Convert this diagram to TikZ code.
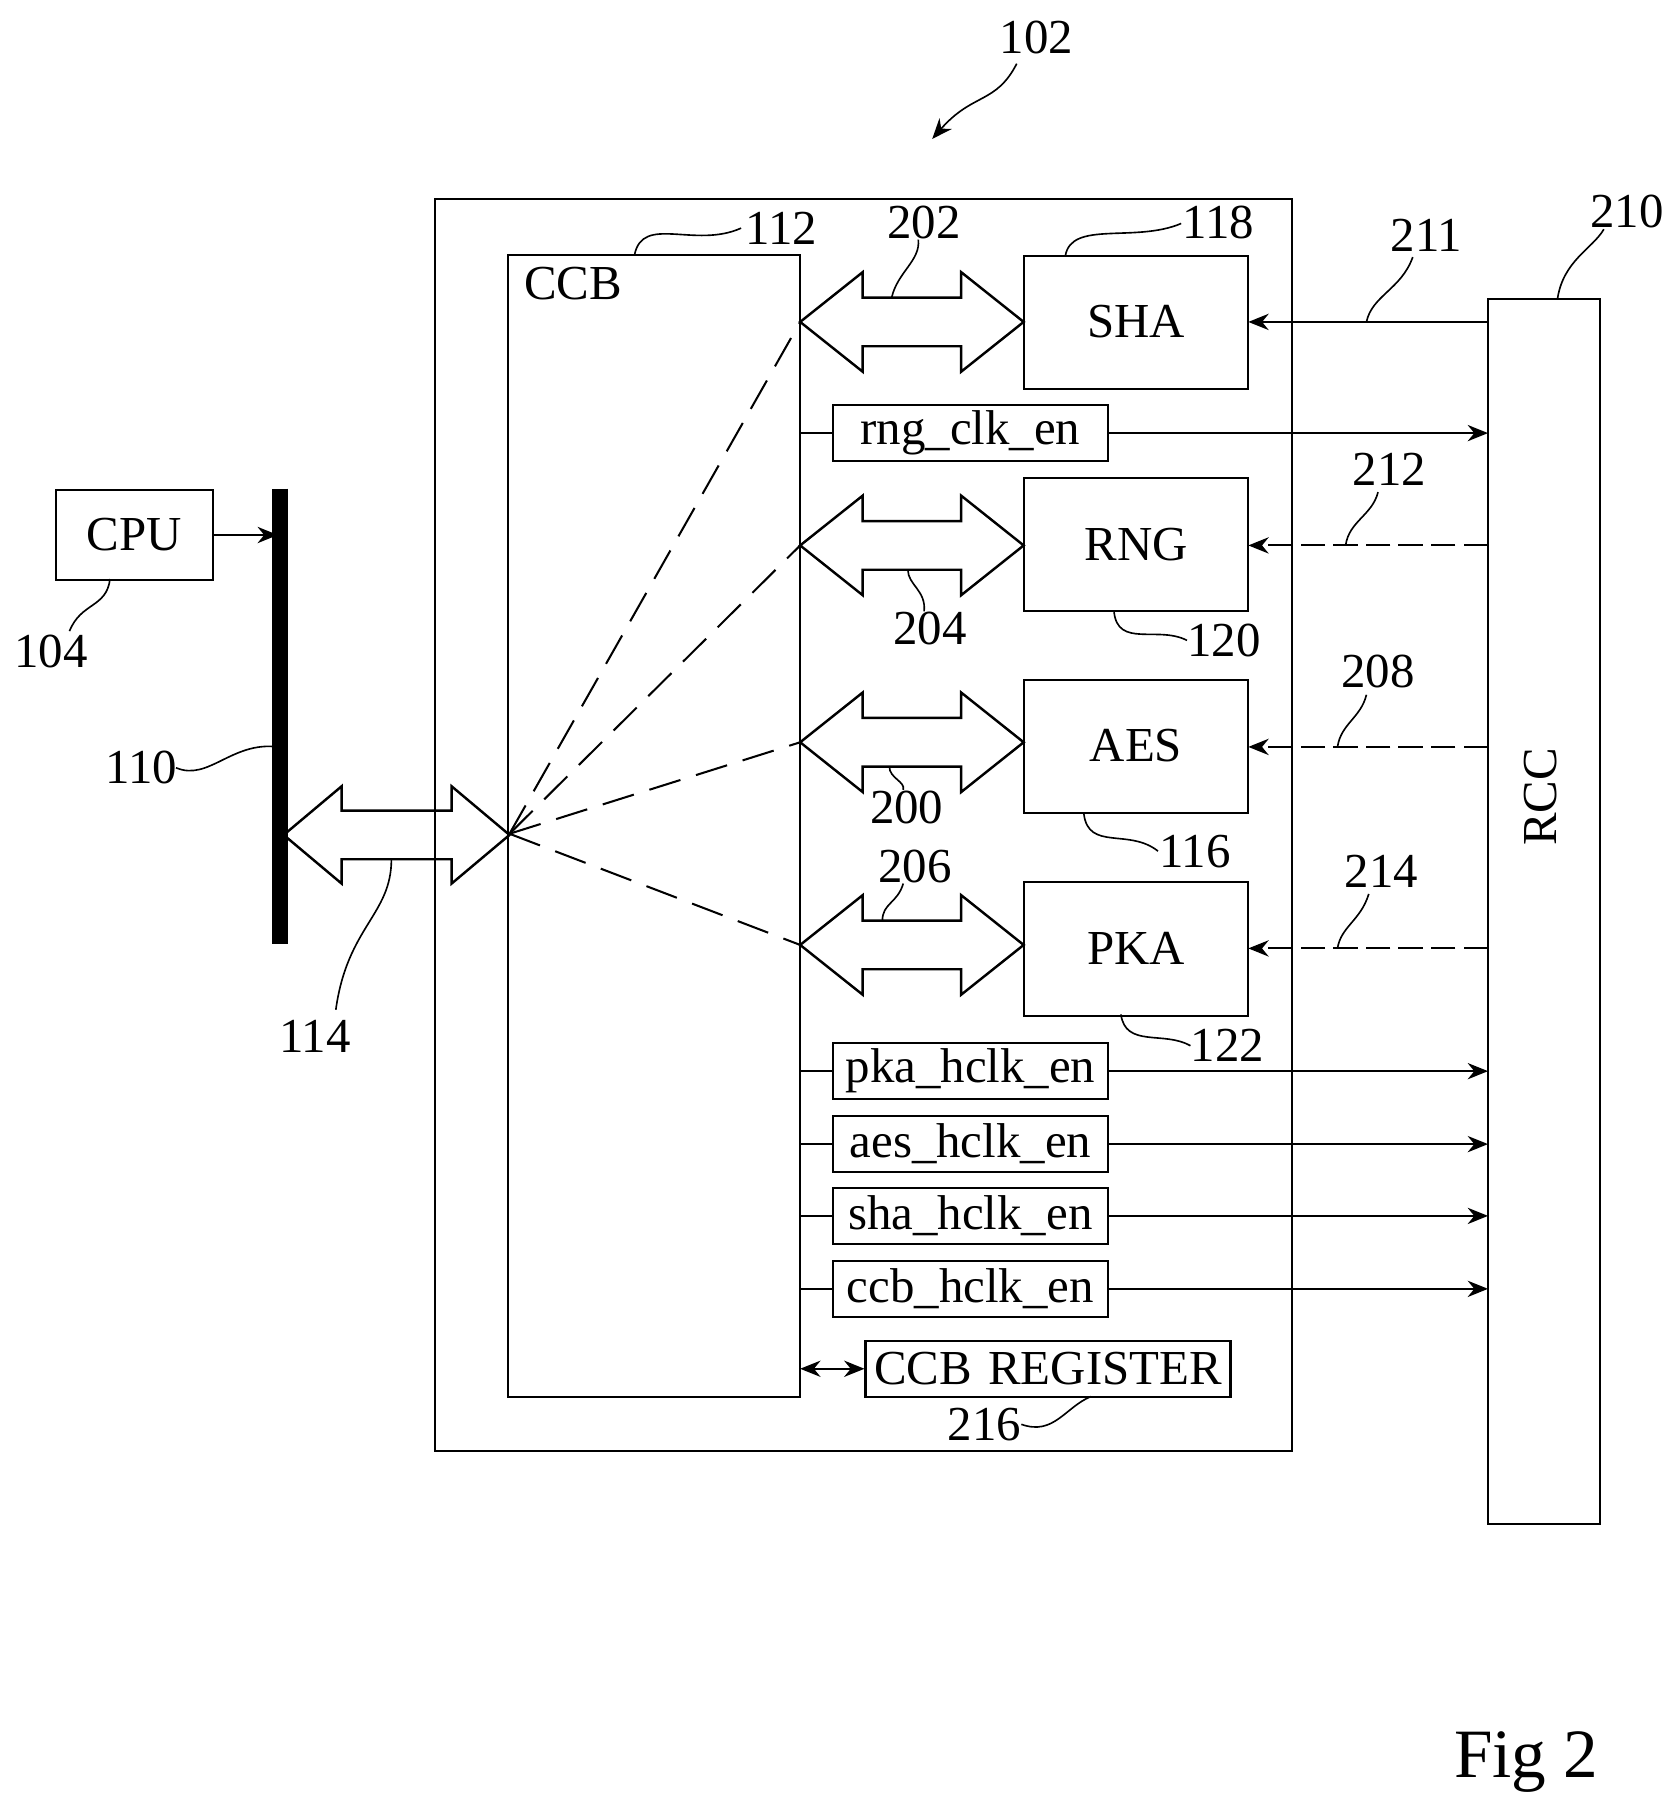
\documentclass[tikz,border=0pt]{standalone}
\usepackage{fontspec}
\setmainfont{Liberation Serif}
\usetikzlibrary{arrows.meta}
\begin{document}
\begin{tikzpicture}[x=0.01cm,y=-0.01cm,line width=0.5pt,
  box/.style={draw,inner sep=0pt,font=\fontsize{12}{14}\selectfont},
  lbl/.style={font=\fontsize{12}{14}\selectfont},
  arr/.style={-{Stealth[length=5pt,width=4pt]}},
  lead/.style={line width=0.4pt}]
\useasboundingbox (0,0) rectangle (1440,1557);
\newcommand{\dbl}[6]{% x1 x2 y halfhead halfshaft headlen
 \draw[line width=0.6pt] (#1,#3) -- (#1+#6,#3-#4) -- (#1+#6,#3-#5) -- (#2-#6,#3-#5) -- (#2-#6,#3-#4) -- (#2,#3)
   -- (#2-#6,#3+#4) -- (#2-#6,#3+#5) -- (#1+#6,#3+#5) -- (#1+#6,#3+#4) -- cycle;}
% outer
\draw (376,172) rectangle (1116,1253);
\draw (439,220) rectangle (691,1206);
\node[lbl] (ccb) at (495,245) {CCB};
\node[lbl] (l112) at (675,197) {112};
\draw[lead] (548,220) .. controls (555,185) and (600,215) .. (640,197);
% blocks
\foreach \n/\t/\y in {sha/SHA/221,rng/RNG/413,aes/AES/587,pka/PKA/762}{
  \draw (884,\y) rectangle (1078,\y+115);
  \node[lbl] (\n) at (981,\y+57) {\t};
}
\node[lbl] (l118) at (1052,192) {118};
\draw[lead] (920,221) .. controls (925,190) and (980,210) .. (1020,193);
\node[lbl] (l120) at (1057,553) {120};
\draw[lead] (962,528) .. controls (965,560) and (1000,540) .. (1025,553);
\node[lbl] (l116) at (1032,735) {116};
\draw[lead] (936,703) .. controls (940,735) and (975,715) .. (1000,735);
\node[lbl] (l122) at (1060,903) {122};
\draw[lead] (968,876) .. controls (972,905) and (1005,890) .. (1028,903);
% double arrows
\dbl{691}{884}{278}{43}{21}{54}
\dbl{691}{884}{471}{43}{21}{54}
\dbl{691}{884}{641}{43}{21}{54}
\dbl{691}{884}{816}{43}{21}{54}
\node[lbl] (l202) at (798,192) {202};
\draw[lead] (770,257) .. controls (775,235) and (795,225) .. (793,207);
\node[lbl] (l204) at (803,543) {204};
\draw[lead] (784,492) .. controls (784,505) and (800,510) .. (798,528);
\node[lbl] (l200) at (783,697) {200};
\draw[lead] (768,662) .. controls (768,672) and (782,675) .. (780,682);
\node[lbl] (l206) at (790,748) {206};
\draw[lead] (762,795) .. controls (762,780) and (775,780) .. (780,763);
% bus
\draw[line width=4pt] (242,422) -- (242,815);
\node[box,minimum width=1.36cm,minimum height=0.77cm] (cpu) at (116,462) {CPU};
\node[lbl] (l104) at (44,563) {104};
\draw[lead] (95,500) .. controls (92,525) and (70,520) .. (60,545);
\coordinate (busin) at (240,462);
\draw[arr] (cpu.east) -- (busin);
\node[lbl] (l110) at (122,663) {110};
\draw[lead] (152,663) .. controls (180,675) and (200,640) .. (240,645);
\dbl{245}{440}{721}{42}{21}{50}
\node[lbl] (l114) at (272,895) {114};
\draw[lead] (338,742) .. controls (338,790) and (300,800) .. (290,872);
% dashed fan
\coordinate (fan) at (440,720);
\foreach \yy in {278,471,641,816}{\draw[dash pattern=on 8pt off 4pt,line width=0.5pt] (fan) -- (691,\yy);}
% RCC
\draw (1285,258) rectangle (1382,1316);
\node[lbl,rotate=90] (rcc) at (1330,688) {RCC};
\node[lbl] (l210) at (1405,183) {210};
\draw[lead] (1345,258) .. controls (1350,225) and (1375,215) .. (1385,198);
% signals to blocks
\draw[arr] (1285,278) -- (1078,278);
\draw[arr,dash pattern=on 6pt off 2pt] (1285,471) -- (1078,471);
\draw[arr,dash pattern=on 6pt off 2pt] (1285,645) -- (1078,645);
\draw[arr,dash pattern=on 6pt off 2pt] (1285,819) -- (1078,819);
\node[lbl] (l211) at (1232,203) {211};
\draw[lead] (1180,278) .. controls (1185,255) and (1210,250) .. (1220,222);
\node[lbl] (l212) at (1200,405) {212};
\draw[lead] (1162,471) .. controls (1165,450) and (1185,445) .. (1190,425);
\node[lbl] (l208) at (1190,580) {208};
\draw[lead] (1155,645) .. controls (1158,625) and (1175,620) .. (1180,600);
\node[lbl] (l214) at (1193,752) {214};
\draw[lead] (1155,819) .. controls (1158,800) and (1175,795) .. (1182,772);
% clock enables
\foreach \n/\t/\y in {rngc/rng\_clk\_en/374,pkac/pka\_hclk\_en/925,aesc/aes\_hclk\_en/988,shac/sha\_hclk\_en/1050,ccbc/ccb\_hclk\_en/1113}{
  \node[box,minimum width=2.38cm,minimum height=0.48cm] (\n) at (838,\y) {\t};
  \coordinate (\n l) at (691,\y);
  \coordinate (\n r) at (1285,\y);
  \draw (\n l) -- (\n.west);
  \draw[arr] (\n.east) -- (\n r);
}
\node[box,minimum width=3.15cm,minimum height=0.48cm] (reg) at (905,1182) {CCB\,\,REGISTER};
\coordinate (regl) at (691,1182);
\draw[{Stealth[length=5pt,width=4pt]}-{Stealth[length=5pt,width=4pt]}] (regl) -- (reg.west);
\node[lbl] (l216) at (850,1230) {216};
\draw[lead] (882,1230) .. controls (910,1240) and (920,1215) .. (942,1206);
% 102
\node[lbl] (l102) at (895,32) {102};
\coordinate (p102) at (805,120);
\draw[lead,arr] (878,55) .. controls (860,90) and (840,80) .. (p102);
\node[font=\fontsize{17}{20}\selectfont] (fig) at (1318,1522) {Fig 2};
\end{tikzpicture}
\end{document}
